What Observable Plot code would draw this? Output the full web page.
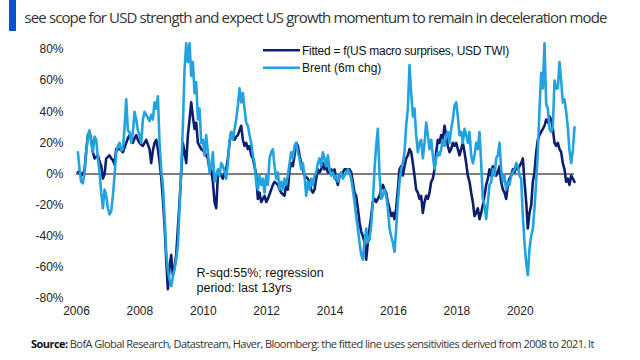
<!DOCTYPE html>
<html>
<head>
<meta charset="utf-8">
<script src="https://cdn.jsdelivr.net/npm/d3@7"></script>
<script src="https://cdn.jsdelivr.net/npm/@observablehq/plot@0.6"></script>
<style>
  html, body { margin: 0; padding: 0; background: #fff; }
  body { width: 640px; height: 360px; overflow: hidden; position: relative; }
  #chart { position: absolute; left: 0; top: 0; }
  #overlay { position: absolute; left: 0; top: 0; pointer-events: none; }
</style>
</head>
<body>
<div id="chart"></div>
<svg id="overlay" width="640" height="360"></svg>
<script>
// ---------- data ----------
const titleText = "see scope for USD strength and expect US growth momentum to remain in deceleration mode";
const captionBold = "Source:";
const captionText = " BofA Global Research, Datastream, Haver, Bloomberg: the fitted line uses sensitivities derived from 2008 to 2021. It";
const legendLabels = ["Fitted = f(US macro surprises, USD TWI)", "Brent (6m chg)"];
const annotationText = "R-sqd:55%; regression\nperiod: last 13yrs";
const annotationDate = "2009-10-15";
const annotationValue = -68;

const firstDate = "2006-01-17";
const lastDate = "2021-09-17";
const axisStart = "2006-01-01";
const xTickYears = [2006, 2008, 2010, 2012, 2014, 2016, 2018, 2020];
const yTicks = [-80, -60, -40, -20, 0, 20, 40, 60, 80];

// Brent, 6m % change (roughly every 19 days)
const brent = [
  14,3,-5,-6,1,14,24,28,20,14, 24,22,10,1,-12,-22,-10,-14,-22,-26,
  -24,-14,-1,14,18,20,15,16,30,48, 28,27,20,27,40,35,28,25,20,35,
  40,38,36,34,38,35,46,42,50,20, 3,-7,-27,-50,-62,-68,-72,-66,-61,-55,
  -46,
  -22,3,31,67,84,72,84,63,72,52, 59,35,42,20,22,12,25,14,1,5,
  14,-5,-1,3,-1,7,5,2,-3,7, 22,27,22,29,35,44,55,46,52,42,
  33,31,25,20,12,7,-5,-10,-1,-7, -3,-12,-1,-7,10,14,16,5,-3,1,
  -10,-5,-10,-3,-7,-1,7,14,10,18, 20,14,10,3,7,-1,-14,-5,-10,-3,
  -7,-1,1,7,10,5,14,10,5,12, 3,-1,1,-3,-1,-5,-1,1,-3,-1,
  1,3,1,-3,-10,-18,-27,-35,-44,-52, -55,-44,-35,-44,-42,-33,-18,3,18,29,
  -1,-16,-14,-10,-14,-22,-35,-40,-44,-50, -35,-18,-5,3,7,14,31,42,70,52,
  37,42,25,14,20,22,10,20,33,25, 16,22,12,3,10,14,12,16,22,18,
  25,27,20,29,35,44,46,37,25,27, 20,29,25,20,27,12,7,12,20,16,
  27,7,-16,-20,-29,-18,-7,-5,3,-1, 10,12,20,3,-5,-1,-10,-5,-7,-1,
  1,3,7,5,-1,-3,-27,-44,-57,-65, -48,-40,-35,-22,-5,14,42,65,55,84,
  45,42,29,27,30,60,55,55,72,60, 46,48,40,30,15,7,15,30
];

// Fitted = f(US macro surprises, USD TWI)
const fitted = [
  1,2,-1,0,3,15,25,27,22,14, 10,11,12,8,5,-3,0,10,11,12,
  10,9,6,16,16,16,15,14,17,20, 23,25,22,20,23,25,22,20,19,18,
  20,22,19,16,7,15,20,22,16,8, -2,-16,-33,-55,-74,-60,-52,-65,-60,-52,
  -35,
  -18,1,20,14,7,25,35,46,37,29, 33,20,18,16,15,14,12,10,3,3,
  -5,-18,-22,-1,1,-1,-3,0,3,10, 20,27,25,22,24,25,28,31,22,18,
  20,16,18,12,10,5,-1,-16,-12,-18, -16,-14,-18,-16,-13,-10,-7,-5,-6,-7,
  -10,-12,-13,-14,-7,-10,3,7,5,12, 20,18,12,7,3,-1,-2,-3,-6,-10,
  -12,-10,-3,3,1,3,7,3,5,1, 1,3,1,3,-3,-7,-1,-1,1,3,
  3,3,3,1,-5,-12,-14,-22,-31,-37, -40,-44,-55,-44,-35,-27,-18,-16,-18,-16,
  -14,-10,-7,-10,-12,-18,-22,-27,-25,-29, -22,-10,3,5,-1,5,10,12,16,14,
  7,-1,-10,-12,-16,-14,-25,-18,-14,-16, -12,-5,-3,3,14,22,20,25,22,31,
  25,18,14,16,20,18,20,16,12,16, 20,14,7,-1,-5,-12,-18,-27,-25,-22,
  -29,-25,-20,-14,-7,-3,3,-1,5,3, -1,1,5,-5,-10,-12,-16,-7,-3,-1,
  3,1,5,3,5,7,10,-5,-18,-35, -25,-20,-5,1,14,22,25,27,29,31,
  35,33,37,35,29,20,18,20,16,14, 7,3,-5,-3,-7,-1,-3,-5
];

// ---------- build ----------
const navy = "#0c1f6e";
const light = "#22a2df";
const t0 = new Date(firstDate + "T00:00:00Z");
const t1 = new Date(lastDate + "T00:00:00Z");
const n = brent.length;
const rows = d3.range(n).map(i => ({
  date: new Date(+t0 + (t1 - t0) * i / (n - 1)),
  brent: brent[i],
  fitted: fitted[i]
}));

const chart = Plot.plot({
  width: 640,
  height: 325,
  marginTop: 49,
  marginBottom: 27,
  marginLeft: 76,
  marginRight: 66,
  style: { fontFamily: '"Liberation Sans", Arial, sans-serif', fontSize: "12px", color: "#222", background: "transparent", overflow: "visible" },
  x: {
    type: "utc",
    domain: [new Date(axisStart + "T00:00:00Z"), t1],
    ticks: xTickYears.map(y => new Date(Date.UTC(y, 0, 1))),
    tickFormat: d3.utcFormat("%Y"),
    tickSize: 0,
    tickPadding: 8,
    label: null
  },
  y: {
    domain: [-80, 80],
    ticks: yTicks,
    tickFormat: d => `${d}%`,
    tickSize: 0,
    tickPadding: 13,
    label: null
  },
  marks: [
    Plot.ruleY([0], { stroke: "#555", strokeWidth: 1.5 }),
    Plot.lineY(rows, { x: "date", y: "fitted", stroke: navy, strokeWidth: 2.6 }),
    Plot.lineY(rows, { x: "date", y: "brent", stroke: light, strokeWidth: 2.6 }),
    Plot.text([{ date: new Date(annotationDate + "T00:00:00Z"), v: annotationValue, t: annotationText }], {
      x: "date", y: "v", text: "t", textAnchor: "start", lineAnchor: "middle",
      lineHeight: 1.17, fontSize: 12.5, fill: "#111"
    })
  ]
});
document.getElementById("chart").appendChild(chart);

// fit a text to a target width by adjusting letter spacing (real layout, no squeezing)
function fitWidth(sel, target) {
  const node = sel.node();
  const chars = sel.text().length;
  for (let k = 0; k < 3; k++) {
    const w = node.getComputedTextLength();
    const cur = parseFloat(sel.attr("letter-spacing") || 0);
    sel.attr("letter-spacing", (cur + (target - w) / chars).toFixed(3));
  }
}

// ---------- title, legend, caption ----------
const ov = d3.select("#overlay");
ov.append("rect").attr("x", 9).attr("y", 0).attr("width", 7).attr("height", 31).attr("fill", "#0a52cc");
const title = ov.append("text")
  .attr("x", 24.5).attr("y", 23)
  .attr("font-family", '"Open Sans", sans-serif').attr("font-size", 15).attr("fill", "#333")
  .text(titleText);
fitWidth(title, 582);

const leg = ov.append("g").attr("font-family", '"Liberation Sans", Arial, sans-serif').attr("font-size", 12).attr("fill", "#111");
const legY = [50.3, 67.7];
const legColors = [navy, light];
const legLen = [207, null];
legendLabels.forEach((lab, i) => {
  leg.append("line").attr("x1", 263).attr("x2", 300).attr("y1", legY[i]).attr("y2", legY[i])
    .attr("stroke", legColors[i]).attr("stroke-width", 2.5);
  const t = leg.append("text").attr("x", 302).attr("y", legY[i] + 4.3).text(lab);
  if (legLen[i]) fitWidth(t, legLen[i]);
});

const cap = ov.append("text")
  .attr("x", 31).attr("y", 348)
  .attr("font-family", '"Open Sans", sans-serif').attr("font-size", 11).attr("fill", "#333");
cap.append("tspan").attr("font-weight", "bold").attr("fill", "#111").text(captionBold);
cap.append("tspan").text(captionText);
fitWidth(cap, 563);
</script>
</body>
</html>
